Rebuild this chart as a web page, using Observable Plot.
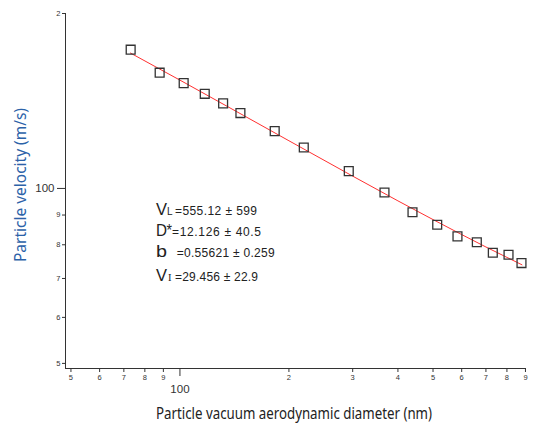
<!DOCTYPE html>
<html><head><meta charset="utf-8">
<script src="https://cdn.jsdelivr.net/npm/d3@7"></script>
<script src="https://cdn.jsdelivr.net/npm/@observablehq/plot@0.6"></script>
<style>body{margin:0;background:#fff} #chart{width:536px;height:424px}</style>
</head><body><div id="chart"></div>
<script>
const diameters = [73.1, 87.9, 102.4, 117.1, 131.6, 146.9, 182.7, 219.8, 292.6, 367.2, 438.8, 513.5, 584.1, 660.6, 731.3, 808.1, 877.6];
const velocities = [173.3, 158.2, 151.8, 145.5, 140.1, 134.8, 125.5, 117.6, 107.1, 98.4, 91.0, 86.6, 82.7, 80.8, 77.5, 76.9, 74.4];
const fitDiameters = [73, 100, 150, 200, 300, 400, 500, 600, 700, 800, 880];
const fitVelocities = [171.0, 153.6, 133.5, 120.8, 105.0, 95.2, 88.4, 83.3, 79.3, 76.1, 73.9];
const xMinorTicks = [50, 60, 70, 80, 90, 200, 300, 400, 500, 600, 700, 800, 900];
const xMajorTicks = [100];
const yMinorTicks = [50, 60, 70, 80, 90, 200];
const yMajorTicks = [100];
const xTitle = "Particle vacuum aerodynamic diameter (nm)";
const yTitle = "Particle velocity (m/s)";
const paramSymbols = ["V", "D", "b", "V"];
const paramSubs = ["L", "*", "", "I"];
const paramValues = ["=555.12 ± 599", "=12.126 ± 40.5", "=0.55621 ± 0.259", "=29.456 ± 22.9"];

const points = diameters.map((d, i) => ({d, v: velocities[i]}));
const fit = fitDiameters.map((d, i) => ({d, v: fitVelocities[i]}));
const lead = d => String(Math.round(d / 10 ** Math.floor(Math.log10(d))));
const xDomain = [48.3, 906], yDomain = [49, 200];

const chart = Plot.plot({
  width: 536, height: 424,
  marginLeft: 65, marginRight: 10, marginTop: 13, marginBottom: 56,
  style: {fontFamily: "'Liberation Sans', Arial, sans-serif", color: "#333", background: "#fff"},
  x: {type: "log", domain: xDomain, axis: null},
  y: {type: "log", domain: yDomain, axis: null},
  marks: [
    Plot.ruleX([xDomain[0]], {y1: yDomain[0], y2: yDomain[1], stroke: "#333"}),
    Plot.ruleY([yDomain[0]], {x1: xDomain[0], x2: xDomain[1], stroke: "#333"}),
    Plot.axisX(xMinorTicks, {tickSize: 4, text: null, label: null}),
    Plot.axisX(xMajorTicks, {tickSize: 8, text: null, label: null}),
    Plot.axisY(yMinorTicks, {tickSize: 3, text: null, label: null}),
    Plot.axisY(yMajorTicks, {tickSize: 8, text: null, label: null}),
    Plot.text(xMinorTicks, {x: d => d, text: lead, frameAnchor: "bottom", dy: 11, fontSize: 7.5, fill: "#333"}),
    Plot.text(xMajorTicks, {x: d => d, text: d => String(d), frameAnchor: "bottom", dy: 24, fontSize: 11.5, fill: "#333"}),
    Plot.text(yMinorTicks, {y: d => d, text: lead, frameAnchor: "left", dx: -5, textAnchor: "end", fontSize: 7.5, fill: "#333"}),
    Plot.text(yMajorTicks, {y: d => d, text: d => String(d), frameAnchor: "left", dx: -11, textAnchor: "end", fontSize: 11.5, fill: "#333"}),
    Plot.line(fit, {x: "d", y: "v", stroke: "#ff3030", strokeWidth: 1}),
    Plot.dot(points, {x: "d", y: "v", symbol: "square", r: 5, stroke: "#333", strokeWidth: 1.3, fill: "none"})
  ]
});
document.getElementById("chart").appendChild(chart);

const svg = d3.select(chart);
svg.append("text")
  .attr("transform", "translate(26,185) rotate(-90)")
  .attr("text-anchor", "middle")
  .attr("font-family", "'Noto Sans', 'Open Sans', sans-serif")
  .attr("font-size", 16)
  .attr("fill", "#2c62a8")
  .attr("textLength", 154).attr("lengthAdjust", "spacingAndGlyphs")
  .text(yTitle);
svg.append("text")
  .attr("x", 294).attr("y", 419)
  .attr("text-anchor", "middle")
  .attr("font-family", "'Noto Sans', 'Open Sans', sans-serif")
  .attr("font-size", 16)
  .attr("fill", "#222")
  .attr("textLength", 276).attr("lengthAdjust", "spacingAndGlyphs")
  .text(xTitle);

const baselines = [215, 235.5, 256.5, 280.5];
const valueX = [175, 172, 176.7, 175];
const valueLen = [82, 89, 98, 83];
const subX = [167, 166.5, 0, 168];
const g = svg.append("g").attr("fill", "#222").attr("text-anchor", "start")
  .attr("font-family", "'Liberation Sans', Arial, sans-serif");
paramSymbols.forEach((s, i) => {
  g.append("text").attr("x", 156).attr("y", baselines[i]).attr("font-size", 17)
    .attr("textLength", 11).attr("lengthAdjust", "spacingAndGlyphs").text(s);
  if (paramSubs[i]) {
    const t = g.append("text").attr("x", subX[i]).attr("y", baselines[i]);
    if (paramSubs[i] === "*") t.attr("font-size", 16).attr("textLength", 5.5).attr("lengthAdjust", "spacingAndGlyphs");
    else if (paramSubs[i] === "I") t.attr("font-size", 10.5).attr("font-family", "'Liberation Serif', serif");
    else t.attr("font-size", 10);
    t.text(paramSubs[i]);
  }
  g.append("text").attr("x", valueX[i]).attr("y", baselines[i])
    .attr("font-size", 12)
    .attr("textLength", valueLen[i]).attr("lengthAdjust", "spacing")
    .text(paramValues[i]);
});
</script>
</body></html>
